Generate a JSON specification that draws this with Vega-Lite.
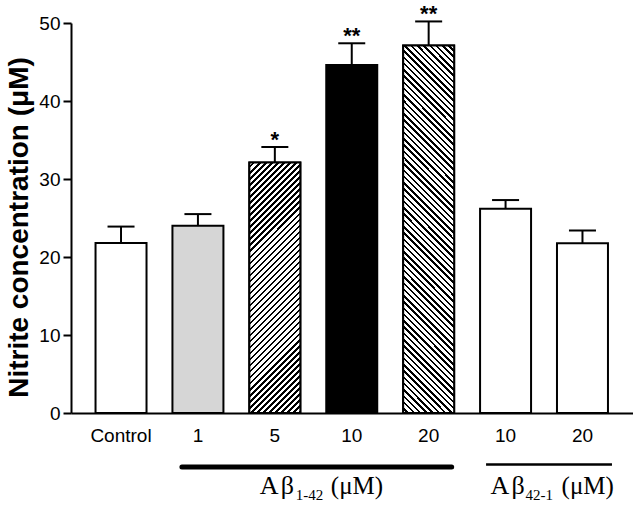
{
  "$schema": "https://vega.github.io/schema/vega-lite/v6.json",
  "width": 561.5,
  "height": 390,
  "autosize": {"type": "none"},
  "padding": {"left": 71, "top": 23, "right": 7.5, "bottom": 92},
  "background": "white",
  "config": {
    "view": {"stroke": null},
    "axis": {"labelColor": "black", "titleColor": "black", "domainColor": "black", "tickColor": "black", "labelFont": "Liberation Sans", "titleFont": "Liberation Sans", "grid": false},
    "text": {"font": "Liberation Sans", "color": "black"}
  },
  "data": {
    "values": [
      {"key": "c", "mean": 21.8, "upper": 23.9, "sig": ""},
      {"key": "a1", "mean": 24.0, "upper": 25.5, "sig": ""},
      {"key": "a5", "mean": 32.1, "upper": 34.1, "sig": "*"},
      {"key": "a10", "mean": 44.6, "upper": 47.4, "sig": "**"},
      {"key": "a20", "mean": 47.1, "upper": 50.2, "sig": "**"},
      {"key": "r10", "mean": 26.2, "upper": 27.3, "sig": ""},
      {"key": "r20", "mean": 21.75, "upper": 23.4, "sig": ""}
    ]
  },
  "layer": [
    {
      "mark": {"type": "bar", "stroke": "black", "strokeWidth": 2},
      "encoding": {
        "x": {"field": "key", "type": "nominal", "sort": null,
          "scale": {"domain": ["c", "a1", "a5", "a10", "a20", "r10", "r20"], "paddingInner": 0.337, "paddingOuter": 0.319},
          "axis": {"title": null, "labelExpr": "datum.value == 'c' ? 'Control' : slice(datum.value, 1)", "ticks": false, "tickSize": 0, "labelPadding": 13, "labelFontSize": 19, "domainWidth": 2, "labelAngle": 0}},
        "y": {"field": "mean", "type": "quantitative",
          "scale": {"domain": [0, 50], "nice": false},
          "axis": {"title": "Nitrite concentration (μM)", "values": [0, 10, 20, 30, 40, 50], "tickSize": 8, "tickWidth": 2, "domainWidth": 2, "labelFontSize": 19, "labelPadding": 3, "titleFontSize": 28, "titleFontWeight": "bold", "titlePadding": 5, "titleY": 204}},
        "fill": {"field": "key", "type": "nominal",
          "scale": {"domain": ["c", "a1", "a5", "a10", "a20", "r10", "r20"], "range": ["white", "#d6d6d6", "white", "black", "white", "white", "white"]},
          "legend": null}
      }
    },
    {
      "transform": [{"filter": "datum.key == 'a5'"}],
      "mark": {"type": "bar", "stroke": "black", "strokeWidth": 2,
        "fill": {"gradient": "linear", "x1": 0, "y1": 0, "x2": 0.2354, "y2": 1.1558, "stops": [
{"offset":0,"color":"#fff"},{"offset":0.012,"color":"#fff"},{"offset":0.012,"color":"#000"},{"offset":0.02,"color":"#000"},
{"offset":0.02,"color":"#fff"},{"offset":0.032,"color":"#fff"},{"offset":0.032,"color":"#000"},{"offset":0.04,"color":"#000"},
{"offset":0.04,"color":"#fff"},{"offset":0.052,"color":"#fff"},{"offset":0.052,"color":"#000"},{"offset":0.06,"color":"#000"},
{"offset":0.06,"color":"#fff"},{"offset":0.072,"color":"#fff"},{"offset":0.072,"color":"#000"},{"offset":0.08,"color":"#000"},
{"offset":0.08,"color":"#fff"},{"offset":0.092,"color":"#fff"},{"offset":0.092,"color":"#000"},{"offset":0.1,"color":"#000"},
{"offset":0.1,"color":"#fff"},{"offset":0.112,"color":"#fff"},{"offset":0.112,"color":"#000"},{"offset":0.12,"color":"#000"},
{"offset":0.12,"color":"#fff"},{"offset":0.132,"color":"#fff"},{"offset":0.132,"color":"#000"},{"offset":0.14,"color":"#000"},
{"offset":0.14,"color":"#fff"},{"offset":0.152,"color":"#fff"},{"offset":0.152,"color":"#000"},{"offset":0.16,"color":"#000"},
{"offset":0.16,"color":"#fff"},{"offset":0.172,"color":"#fff"},{"offset":0.172,"color":"#000"},{"offset":0.18,"color":"#000"},
{"offset":0.18,"color":"#fff"},{"offset":0.192,"color":"#fff"},{"offset":0.192,"color":"#000"},{"offset":0.2,"color":"#000"},
{"offset":0.2,"color":"#fff"},{"offset":0.212,"color":"#fff"},{"offset":0.212,"color":"#000"},{"offset":0.22,"color":"#000"},
{"offset":0.22,"color":"#fff"},{"offset":0.232,"color":"#fff"},{"offset":0.232,"color":"#000"},{"offset":0.24,"color":"#000"},
{"offset":0.24,"color":"#fff"},{"offset":0.252,"color":"#fff"},{"offset":0.252,"color":"#000"},{"offset":0.26,"color":"#000"},
{"offset":0.26,"color":"#fff"},{"offset":0.272,"color":"#fff"},{"offset":0.272,"color":"#000"},{"offset":0.28,"color":"#000"},
{"offset":0.28,"color":"#fff"},{"offset":0.292,"color":"#fff"},{"offset":0.292,"color":"#000"},{"offset":0.3,"color":"#000"},
{"offset":0.3,"color":"#fff"},{"offset":0.312,"color":"#fff"},{"offset":0.312,"color":"#000"},{"offset":0.32,"color":"#000"},
{"offset":0.32,"color":"#fff"},{"offset":0.332,"color":"#fff"},{"offset":0.332,"color":"#000"},{"offset":0.34,"color":"#000"},
{"offset":0.34,"color":"#fff"},{"offset":0.352,"color":"#fff"},{"offset":0.352,"color":"#000"},{"offset":0.36,"color":"#000"},
{"offset":0.36,"color":"#fff"},{"offset":0.372,"color":"#fff"},{"offset":0.372,"color":"#000"},{"offset":0.38,"color":"#000"},
{"offset":0.38,"color":"#fff"},{"offset":0.392,"color":"#fff"},{"offset":0.392,"color":"#000"},{"offset":0.4,"color":"#000"},
{"offset":0.4,"color":"#fff"},{"offset":0.412,"color":"#fff"},{"offset":0.412,"color":"#000"},{"offset":0.42,"color":"#000"},
{"offset":0.42,"color":"#fff"},{"offset":0.432,"color":"#fff"},{"offset":0.432,"color":"#000"},{"offset":0.44,"color":"#000"},
{"offset":0.44,"color":"#fff"},{"offset":0.452,"color":"#fff"},{"offset":0.452,"color":"#000"},{"offset":0.46,"color":"#000"},
{"offset":0.46,"color":"#fff"},{"offset":0.472,"color":"#fff"},{"offset":0.472,"color":"#000"},{"offset":0.48,"color":"#000"},
{"offset":0.48,"color":"#fff"},{"offset":0.492,"color":"#fff"},{"offset":0.492,"color":"#000"},{"offset":0.5,"color":"#000"},
{"offset":0.5,"color":"#fff"},{"offset":0.512,"color":"#fff"},{"offset":0.512,"color":"#000"},{"offset":0.52,"color":"#000"},
{"offset":0.52,"color":"#fff"},{"offset":0.532,"color":"#fff"},{"offset":0.532,"color":"#000"},{"offset":0.54,"color":"#000"},
{"offset":0.54,"color":"#fff"},{"offset":0.552,"color":"#fff"},{"offset":0.552,"color":"#000"},{"offset":0.56,"color":"#000"},
{"offset":0.56,"color":"#fff"},{"offset":0.572,"color":"#fff"},{"offset":0.572,"color":"#000"},{"offset":0.58,"color":"#000"},
{"offset":0.58,"color":"#fff"},{"offset":0.592,"color":"#fff"},{"offset":0.592,"color":"#000"},{"offset":0.6,"color":"#000"},
{"offset":0.6,"color":"#fff"},{"offset":0.612,"color":"#fff"},{"offset":0.612,"color":"#000"},{"offset":0.62,"color":"#000"},
{"offset":0.62,"color":"#fff"},{"offset":0.632,"color":"#fff"},{"offset":0.632,"color":"#000"},{"offset":0.64,"color":"#000"},
{"offset":0.64,"color":"#fff"},{"offset":0.652,"color":"#fff"},{"offset":0.652,"color":"#000"},{"offset":0.66,"color":"#000"},
{"offset":0.66,"color":"#fff"},{"offset":0.672,"color":"#fff"},{"offset":0.672,"color":"#000"},{"offset":0.68,"color":"#000"},
{"offset":0.68,"color":"#fff"},{"offset":0.692,"color":"#fff"},{"offset":0.692,"color":"#000"},{"offset":0.7,"color":"#000"},
{"offset":0.7,"color":"#fff"},{"offset":0.712,"color":"#fff"},{"offset":0.712,"color":"#000"},{"offset":0.72,"color":"#000"},
{"offset":0.72,"color":"#fff"},{"offset":0.732,"color":"#fff"},{"offset":0.732,"color":"#000"},{"offset":0.74,"color":"#000"},
{"offset":0.74,"color":"#fff"},{"offset":0.752,"color":"#fff"},{"offset":0.752,"color":"#000"},{"offset":0.76,"color":"#000"},
{"offset":0.76,"color":"#fff"},{"offset":0.772,"color":"#fff"},{"offset":0.772,"color":"#000"},{"offset":0.78,"color":"#000"},
{"offset":0.78,"color":"#fff"},{"offset":0.792,"color":"#fff"},{"offset":0.792,"color":"#000"},{"offset":0.8,"color":"#000"},
{"offset":0.8,"color":"#fff"},{"offset":0.812,"color":"#fff"},{"offset":0.812,"color":"#000"},{"offset":0.82,"color":"#000"},
{"offset":0.82,"color":"#fff"},{"offset":0.832,"color":"#fff"},{"offset":0.832,"color":"#000"},{"offset":0.84,"color":"#000"},
{"offset":0.84,"color":"#fff"},{"offset":0.852,"color":"#fff"},{"offset":0.852,"color":"#000"},{"offset":0.86,"color":"#000"},
{"offset":0.86,"color":"#fff"},{"offset":0.872,"color":"#fff"},{"offset":0.872,"color":"#000"},{"offset":0.88,"color":"#000"},
{"offset":0.88,"color":"#fff"},{"offset":0.892,"color":"#fff"},{"offset":0.892,"color":"#000"},{"offset":0.9,"color":"#000"},
{"offset":0.9,"color":"#fff"},{"offset":0.912,"color":"#fff"},{"offset":0.912,"color":"#000"},{"offset":0.92,"color":"#000"},
{"offset":0.92,"color":"#fff"},{"offset":0.932,"color":"#fff"},{"offset":0.932,"color":"#000"},{"offset":0.94,"color":"#000"},
{"offset":0.94,"color":"#fff"},{"offset":0.952,"color":"#fff"},{"offset":0.952,"color":"#000"},{"offset":0.96,"color":"#000"},
{"offset":0.96,"color":"#fff"},{"offset":0.972,"color":"#fff"},{"offset":0.972,"color":"#000"},{"offset":0.98,"color":"#000"},
{"offset":0.98,"color":"#fff"},{"offset":0.992,"color":"#fff"},{"offset":0.992,"color":"#000"},{"offset":1,"color":"#000"}
        ]}},
      "encoding": {
        "x": {"field": "key", "type": "nominal", "sort": null},
        "y": {"field": "mean", "type": "quantitative"}
      }
    },
    {
      "transform": [{"filter": "datum.key == 'a20'"}],
      "mark": {"type": "bar", "stroke": "black", "strokeWidth": 2,
        "fill": {"gradient": "linear", "x1": 0, "y1": 1, "x2": 0.1555, "y2": -0.1174, "stops": [
{"offset":0,"color":"#fff"},{"offset":0.009,"color":"#fff"},{"offset":0.009,"color":"#000"},{"offset":0.015,"color":"#000"},
{"offset":0.015,"color":"#fff"},{"offset":0.024,"color":"#fff"},{"offset":0.024,"color":"#000"},{"offset":0.03,"color":"#000"},
{"offset":0.03,"color":"#fff"},{"offset":0.039,"color":"#fff"},{"offset":0.039,"color":"#000"},{"offset":0.045,"color":"#000"},
{"offset":0.045,"color":"#fff"},{"offset":0.054,"color":"#fff"},{"offset":0.054,"color":"#000"},{"offset":0.06,"color":"#000"},
{"offset":0.06,"color":"#fff"},{"offset":0.069,"color":"#fff"},{"offset":0.069,"color":"#000"},{"offset":0.075,"color":"#000"},
{"offset":0.075,"color":"#fff"},{"offset":0.084,"color":"#fff"},{"offset":0.084,"color":"#000"},{"offset":0.09,"color":"#000"},
{"offset":0.09,"color":"#fff"},{"offset":0.099,"color":"#fff"},{"offset":0.099,"color":"#000"},{"offset":0.105,"color":"#000"},
{"offset":0.105,"color":"#fff"},{"offset":0.114,"color":"#fff"},{"offset":0.114,"color":"#000"},{"offset":0.12,"color":"#000"},
{"offset":0.12,"color":"#fff"},{"offset":0.129,"color":"#fff"},{"offset":0.129,"color":"#000"},{"offset":0.135,"color":"#000"},
{"offset":0.135,"color":"#fff"},{"offset":0.144,"color":"#fff"},{"offset":0.144,"color":"#000"},{"offset":0.15,"color":"#000"},
{"offset":0.15,"color":"#fff"},{"offset":0.159,"color":"#fff"},{"offset":0.159,"color":"#000"},{"offset":0.165,"color":"#000"},
{"offset":0.165,"color":"#fff"},{"offset":0.174,"color":"#fff"},{"offset":0.174,"color":"#000"},{"offset":0.18,"color":"#000"},
{"offset":0.18,"color":"#fff"},{"offset":0.189,"color":"#fff"},{"offset":0.189,"color":"#000"},{"offset":0.195,"color":"#000"},
{"offset":0.195,"color":"#fff"},{"offset":0.204,"color":"#fff"},{"offset":0.204,"color":"#000"},{"offset":0.21,"color":"#000"},
{"offset":0.21,"color":"#fff"},{"offset":0.219,"color":"#fff"},{"offset":0.219,"color":"#000"},{"offset":0.225,"color":"#000"},
{"offset":0.225,"color":"#fff"},{"offset":0.234,"color":"#fff"},{"offset":0.234,"color":"#000"},{"offset":0.24,"color":"#000"},
{"offset":0.24,"color":"#fff"},{"offset":0.249,"color":"#fff"},{"offset":0.249,"color":"#000"},{"offset":0.255,"color":"#000"},
{"offset":0.255,"color":"#fff"},{"offset":0.264,"color":"#fff"},{"offset":0.264,"color":"#000"},{"offset":0.27,"color":"#000"},
{"offset":0.27,"color":"#fff"},{"offset":0.279,"color":"#fff"},{"offset":0.279,"color":"#000"},{"offset":0.285,"color":"#000"},
{"offset":0.285,"color":"#fff"},{"offset":0.294,"color":"#fff"},{"offset":0.294,"color":"#000"},{"offset":0.3,"color":"#000"},
{"offset":0.3,"color":"#fff"},{"offset":0.309,"color":"#fff"},{"offset":0.309,"color":"#000"},{"offset":0.315,"color":"#000"},
{"offset":0.315,"color":"#fff"},{"offset":0.324,"color":"#fff"},{"offset":0.324,"color":"#000"},{"offset":0.33,"color":"#000"},
{"offset":0.33,"color":"#fff"},{"offset":0.339,"color":"#fff"},{"offset":0.339,"color":"#000"},{"offset":0.345,"color":"#000"},
{"offset":0.345,"color":"#fff"},{"offset":0.354,"color":"#fff"},{"offset":0.354,"color":"#000"},{"offset":0.36,"color":"#000"},
{"offset":0.36,"color":"#fff"},{"offset":0.369,"color":"#fff"},{"offset":0.369,"color":"#000"},{"offset":0.375,"color":"#000"},
{"offset":0.375,"color":"#fff"},{"offset":0.384,"color":"#fff"},{"offset":0.384,"color":"#000"},{"offset":0.39,"color":"#000"},
{"offset":0.39,"color":"#fff"},{"offset":0.399,"color":"#fff"},{"offset":0.399,"color":"#000"},{"offset":0.405,"color":"#000"},
{"offset":0.405,"color":"#fff"},{"offset":0.414,"color":"#fff"},{"offset":0.414,"color":"#000"},{"offset":0.42,"color":"#000"},
{"offset":0.42,"color":"#fff"},{"offset":0.429,"color":"#fff"},{"offset":0.429,"color":"#000"},{"offset":0.435,"color":"#000"},
{"offset":0.435,"color":"#fff"},{"offset":0.444,"color":"#fff"},{"offset":0.444,"color":"#000"},{"offset":0.45,"color":"#000"},
{"offset":0.45,"color":"#fff"},{"offset":0.459,"color":"#fff"},{"offset":0.459,"color":"#000"},{"offset":0.465,"color":"#000"},
{"offset":0.465,"color":"#fff"},{"offset":0.474,"color":"#fff"},{"offset":0.474,"color":"#000"},{"offset":0.48,"color":"#000"},
{"offset":0.48,"color":"#fff"},{"offset":0.489,"color":"#fff"},{"offset":0.489,"color":"#000"},{"offset":0.495,"color":"#000"},
{"offset":0.495,"color":"#fff"},{"offset":0.504,"color":"#fff"},{"offset":0.504,"color":"#000"},{"offset":0.51,"color":"#000"},
{"offset":0.51,"color":"#fff"},{"offset":0.519,"color":"#fff"},{"offset":0.519,"color":"#000"},{"offset":0.525,"color":"#000"},
{"offset":0.525,"color":"#fff"},{"offset":0.534,"color":"#fff"},{"offset":0.534,"color":"#000"},{"offset":0.54,"color":"#000"},
{"offset":0.54,"color":"#fff"},{"offset":0.549,"color":"#fff"},{"offset":0.549,"color":"#000"},{"offset":0.555,"color":"#000"},
{"offset":0.555,"color":"#fff"},{"offset":0.564,"color":"#fff"},{"offset":0.564,"color":"#000"},{"offset":0.57,"color":"#000"},
{"offset":0.57,"color":"#fff"},{"offset":0.579,"color":"#fff"},{"offset":0.579,"color":"#000"},{"offset":0.585,"color":"#000"},
{"offset":0.585,"color":"#fff"},{"offset":0.594,"color":"#fff"},{"offset":0.594,"color":"#000"},{"offset":0.6,"color":"#000"},
{"offset":0.6,"color":"#fff"},{"offset":0.609,"color":"#fff"},{"offset":0.609,"color":"#000"},{"offset":0.615,"color":"#000"},
{"offset":0.615,"color":"#fff"},{"offset":0.624,"color":"#fff"},{"offset":0.624,"color":"#000"},{"offset":0.63,"color":"#000"},
{"offset":0.63,"color":"#fff"},{"offset":0.639,"color":"#fff"},{"offset":0.639,"color":"#000"},{"offset":0.645,"color":"#000"},
{"offset":0.645,"color":"#fff"},{"offset":0.654,"color":"#fff"},{"offset":0.654,"color":"#000"},{"offset":0.66,"color":"#000"},
{"offset":0.66,"color":"#fff"},{"offset":0.669,"color":"#fff"},{"offset":0.669,"color":"#000"},{"offset":0.675,"color":"#000"},
{"offset":0.675,"color":"#fff"},{"offset":0.684,"color":"#fff"},{"offset":0.684,"color":"#000"},{"offset":0.69,"color":"#000"},
{"offset":0.69,"color":"#fff"},{"offset":0.699,"color":"#fff"},{"offset":0.699,"color":"#000"},{"offset":0.705,"color":"#000"},
{"offset":0.705,"color":"#fff"},{"offset":0.714,"color":"#fff"},{"offset":0.714,"color":"#000"},{"offset":0.72,"color":"#000"},
{"offset":0.72,"color":"#fff"},{"offset":0.729,"color":"#fff"},{"offset":0.729,"color":"#000"},{"offset":0.735,"color":"#000"},
{"offset":0.735,"color":"#fff"},{"offset":0.744,"color":"#fff"},{"offset":0.744,"color":"#000"},{"offset":0.75,"color":"#000"},
{"offset":0.75,"color":"#fff"},{"offset":0.759,"color":"#fff"},{"offset":0.759,"color":"#000"},{"offset":0.765,"color":"#000"},
{"offset":0.765,"color":"#fff"},{"offset":0.774,"color":"#fff"},{"offset":0.774,"color":"#000"},{"offset":0.78,"color":"#000"},
{"offset":0.78,"color":"#fff"},{"offset":0.789,"color":"#fff"},{"offset":0.789,"color":"#000"},{"offset":0.795,"color":"#000"},
{"offset":0.795,"color":"#fff"},{"offset":0.804,"color":"#fff"},{"offset":0.804,"color":"#000"},{"offset":0.81,"color":"#000"},
{"offset":0.81,"color":"#fff"},{"offset":0.819,"color":"#fff"},{"offset":0.819,"color":"#000"},{"offset":0.825,"color":"#000"},
{"offset":0.825,"color":"#fff"},{"offset":0.834,"color":"#fff"},{"offset":0.834,"color":"#000"},{"offset":0.84,"color":"#000"},
{"offset":0.84,"color":"#fff"},{"offset":0.849,"color":"#fff"},{"offset":0.849,"color":"#000"},{"offset":0.855,"color":"#000"},
{"offset":0.855,"color":"#fff"},{"offset":0.864,"color":"#fff"},{"offset":0.864,"color":"#000"},{"offset":0.87,"color":"#000"},
{"offset":0.87,"color":"#fff"},{"offset":0.879,"color":"#fff"},{"offset":0.879,"color":"#000"},{"offset":0.885,"color":"#000"},
{"offset":0.885,"color":"#fff"},{"offset":0.894,"color":"#fff"},{"offset":0.894,"color":"#000"},{"offset":0.9,"color":"#000"},
{"offset":0.9,"color":"#fff"},{"offset":0.909,"color":"#fff"},{"offset":0.909,"color":"#000"},{"offset":0.915,"color":"#000"},
{"offset":0.915,"color":"#fff"},{"offset":0.924,"color":"#fff"},{"offset":0.924,"color":"#000"},{"offset":0.93,"color":"#000"},
{"offset":0.93,"color":"#fff"},{"offset":0.939,"color":"#fff"},{"offset":0.939,"color":"#000"},{"offset":0.945,"color":"#000"},
{"offset":0.945,"color":"#fff"},{"offset":0.954,"color":"#fff"},{"offset":0.954,"color":"#000"},{"offset":0.96,"color":"#000"},
{"offset":0.96,"color":"#fff"},{"offset":0.969,"color":"#fff"},{"offset":0.969,"color":"#000"},{"offset":0.975,"color":"#000"},
{"offset":0.975,"color":"#fff"},{"offset":0.984,"color":"#fff"},{"offset":0.984,"color":"#000"},{"offset":0.99,"color":"#000"},
{"offset":0.99,"color":"#fff"},{"offset":0.999,"color":"#fff"},{"offset":0.999,"color":"#000"},{"offset":1,"color":"#000"}
        ]}},
      "encoding": {
        "x": {"field": "key", "type": "nominal", "sort": null},
        "y": {"field": "mean", "type": "quantitative"}
      }
    },
    {
      "mark": {"type": "rule", "color": "black", "strokeWidth": 2},
      "encoding": {
        "x": {"field": "key", "type": "nominal", "sort": null},
        "y": {"field": "mean", "type": "quantitative"},
        "y2": {"field": "upper"}
      }
    },
    {
      "mark": {"type": "tick", "color": "black", "size": 27, "thickness": 2, "orient": "horizontal", "opacity": 1},
      "encoding": {
        "x": {"field": "key", "type": "nominal", "sort": null},
        "y": {"field": "upper", "type": "quantitative"}
      }
    },
    {
      "transform": [{"filter": "datum.sig != ''"}],
      "mark": {"type": "text", "fontSize": 22, "fontWeight": "bold", "baseline": "alphabetic", "dy": 0, "color": "black"},
      "encoding": {
        "x": {"field": "key", "type": "nominal", "sort": null},
        "y": {"field": "upper", "type": "quantitative"},
        "text": {"field": "sig"}
      }
    },
    {
      "data": {"values": [{}]},
      "mark": {"type": "rule", "color": "black", "strokeWidth": 5, "strokeCap": "round", "xOffset": -16, "x2Offset": 23},
      "encoding": {"x": {"datum": "a1"}, "x2": {"datum": "a20"}, "y": {"datum": -6.92}}
    },
    {
      "data": {"values": [{}]},
      "mark": {"type": "rule", "color": "black", "strokeWidth": 2.5, "xOffset": -19.5, "x2Offset": 29.5},
      "encoding": {"x": {"datum": "r10"}, "x2": {"datum": "r20"}, "y": {"datum": -6.6}}
    },
    {
      "data": {"values": [{}]},
      "mark": {"type": "text", "text": "A\u200aβ", "font": "Liberation Serif", "fontSize": 26, "align": "left", "baseline": "alphabetic", "dx": -15, "color": "black"},
      "encoding": {"x": {"datum": "a5"}, "y": {"datum": -10.4}}
    },
    {
      "data": {"values": [{}]},
      "mark": {"type": "text", "text": "1-42", "font": "Liberation Serif", "fontSize": 15, "align": "left", "baseline": "alphabetic", "dx": 21, "dy": 6, "color": "black"},
      "encoding": {"x": {"datum": "a5"}, "y": {"datum": -10.4}}
    },
    {
      "data": {"values": [{}]},
      "mark": {"type": "text", "text": "(μM)", "font": "Liberation Serif", "fontSize": 25, "align": "left", "baseline": "alphabetic", "dx": 56, "color": "black"},
      "encoding": {"x": {"datum": "a5"}, "y": {"datum": -10.4}}
    },
    {
      "data": {"values": [{}]},
      "mark": {"type": "text", "text": "A\u200aβ", "font": "Liberation Serif", "fontSize": 26, "align": "left", "baseline": "alphabetic", "dx": -15, "color": "black"},
      "encoding": {"x": {"datum": "r10"}, "y": {"datum": -10.4}}
    },
    {
      "data": {"values": [{}]},
      "mark": {"type": "text", "text": "42-1", "font": "Liberation Serif", "fontSize": 15, "align": "left", "baseline": "alphabetic", "dx": 20, "dy": 6, "color": "black"},
      "encoding": {"x": {"datum": "r10"}, "y": {"datum": -10.4}}
    },
    {
      "data": {"values": [{}]},
      "mark": {"type": "text", "text": "(μM)", "font": "Liberation Serif", "fontSize": 25, "align": "left", "baseline": "alphabetic", "dx": 56, "color": "black"},
      "encoding": {"x": {"datum": "r10"}, "y": {"datum": -10.4}}
    }
  ]
}
